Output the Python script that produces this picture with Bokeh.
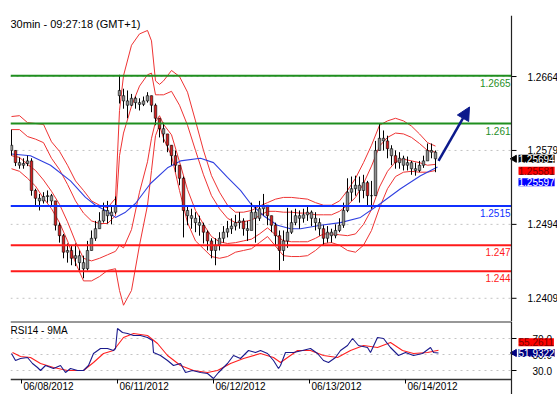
import math
from bokeh.plotting import figure
from bokeh.models import (Range1d, Span, Label, Arrow, NormalHead, ColumnDataSource)
from bokeh.core.properties import value
from bokeh.layouts import column
from bokeh.embed import file_html
from bokeh.resources import INLINE

FONT = "Liberation Sans"

# ---------------- price bars (hourly) ----------------
closes = [1.2579,1.2565,1.2562,1.2564,1.2567,1.2533,1.2524,1.2521,1.2526,1.2527,
          1.2521,1.2493,1.2481,1.2462,1.2464,1.2455,1.2458,1.2450,1.2443,1.2464,
          1.2478,1.2489,1.2498,1.2510,1.2504,1.2508,1.2516,1.2642,1.2636,1.2631,
          1.2639,1.2634,1.2632,1.2636,1.2642,1.2631,1.2616,1.2604,1.2598,1.2585,
          1.2573,1.2562,1.2547,1.2510,1.2504,1.2501,1.2496,1.2493,1.2485,1.2475,
          1.2464,1.2470,1.2478,1.2485,1.2489,1.2492,1.2496,1.2498,1.2489,1.2487,
          1.2508,1.2501,1.2512,1.2516,1.2504,1.2493,1.2481,1.2464,1.2475,1.2485,
          1.2496,1.2504,1.2501,1.2505,1.2508,1.2501,1.2496,1.2489,1.2478,1.2485,
          1.2481,1.2487,1.2493,1.2510,1.2531,1.2535,1.2539,1.2533,1.2542,1.2527,
          1.2527,1.2579,1.2593,1.2590,1.2581,1.2573,1.2565,1.2570,1.2562,1.2565,
          1.2558,1.2556,1.2562,1.2567,1.2579,1.2577,1.25694]
highs = [1.2603,1.2579,1.2571,1.2570,1.2573,1.2570,1.2535,1.2529,1.2531,1.2533,
         1.2529,1.2521,1.2496,1.2483,1.2472,1.2470,1.2472,1.2464,1.2458,1.2475,
         1.2487,1.2498,1.2508,1.2519,1.2521,1.2516,1.2526,1.2666,1.2650,1.2648,
         1.2644,1.2641,1.2639,1.2641,1.2646,1.2642,1.2633,1.2616,1.2611,1.2598,
         1.2585,1.2579,1.2562,1.2549,1.2516,1.2512,1.2508,1.2504,1.2496,1.2487,
         1.2478,1.2478,1.2485,1.2492,1.2498,1.2501,1.2505,1.2508,1.2501,1.2498,
         1.2519,1.2516,1.2521,1.2529,1.2516,1.2504,1.2496,1.2487,1.2487,1.2513,
         1.2510,1.2512,1.2510,1.2512,1.2515,1.2510,1.2508,1.2501,1.2493,1.2492,
         1.2489,1.2494,1.2501,1.2519,1.2547,1.2549,1.2550,1.2549,1.2551,1.2544,
         1.2544,1.2590,1.2610,1.2602,1.2596,1.2585,1.2579,1.2577,1.2573,1.2572,
         1.2567,1.2565,1.2567,1.2573,1.2587,1.2587,1.2579]
lows = [1.2573,1.2561,1.2558,1.2558,1.2561,1.2527,1.2516,1.2510,1.2518,1.2519,
        1.2516,1.2487,1.2473,1.2455,1.2450,1.2447,1.2446,1.2441,1.2432,1.2441,
        1.2464,1.2475,1.2489,1.2496,1.2495,1.2494,1.2506,1.2633,1.2627,1.2616,
        1.2630,1.2627,1.2625,1.2630,1.2634,1.2623,1.2608,1.2594,1.2588,1.2577,
        1.2562,1.2554,1.2539,1.2479,1.2493,1.2489,1.2485,1.2481,1.2472,1.2464,
        1.2455,1.2447,1.2464,1.2473,1.2479,1.2483,1.2487,1.2489,1.2481,1.2475,
        1.2493,1.2473,1.2498,1.2504,1.2493,1.2485,1.2470,1.2441,1.2452,1.2467,
        1.2483,1.2493,1.2489,1.2496,1.2498,1.2492,1.2487,1.2481,1.2470,1.2473,
        1.2473,1.2478,1.2485,1.2490,1.2508,1.2521,1.2527,1.2519,1.2524,1.2516,
        1.2512,1.2527,1.2579,1.2579,1.2570,1.2562,1.2558,1.2558,1.2556,1.2556,
        1.2551,1.2550,1.2554,1.2559,1.2567,1.2570,1.2554]
first_open = 1.2585
gap_index = 27
gap_open = 1.2648

# ---------------- bands & moving average ----------------
band_x = [0,2,4,6,8,10,12,14,16,18,20,22,24,26,27,28,30,32,34,35,36,37,38,
          40,42,44,46,48,50,52,54,56,58,60,62,64,66,68,70,72,74,76,78,80,82,84,
          86,88,90,92,94,96,98,100,102,104,106]
bb_upper = [1.2618,1.2619,1.2611,1.2610,1.2609,1.2589,1.2578,1.2562,1.2544,1.2533,1.2521,1.2516,1.2513,1.2524,
            1.2625,1.2665,1.2700,1.2713,1.2717,1.2705,1.2659,1.2655,1.2659,
            1.2671,1.2664,1.2646,1.2613,1.2579,1.2550,1.2531,1.2516,1.2508,1.2508,1.2510,1.2515,1.2519,1.2523,
            1.2525,1.2525,1.2524,1.2523,1.2519,1.2516,1.2516,1.2521,1.2533,1.2547,1.2565,1.2585,1.2608,1.2613,
            1.2616,1.2613,1.2607,1.2598,1.2588,1.2584]
bb_lower = [1.2558,1.2555,1.2547,1.2538,1.2524,1.2512,1.2496,1.2475,1.2450,1.2429,1.2429,1.2434,1.2441,1.2443,
            1.2418,1.2401,1.2418,1.2470,1.2516,1.2556,1.2596,1.2608,1.2593,
            1.2573,1.2533,1.2496,1.2475,1.2466,1.2457,1.2455,1.2457,1.2462,1.2464,1.2466,1.2473,1.2480,1.2469,
            1.2458,1.2457,1.2457,1.2458,1.2464,1.2472,1.2473,1.2470,1.2464,1.2462,1.2470,1.2487,1.2513,1.2535,
            1.2549,1.2554,1.2555,1.2554,1.2554,1.2556]
bb_inner_upper = [1.2603,1.2603,1.2595,1.2592,1.2588,1.2570,1.2557,1.2540,1.2521,1.2507,1.2498,1.2495,1.2495,1.2504,
                  1.2573,1.2599,1.2630,1.2653,1.2666,1.2668,1.2643,1.2643,1.2643,
                  1.2647,1.2631,1.2608,1.2579,1.2551,1.2527,1.2512,1.2501,1.2496,1.2497,1.2499,1.2504,1.2509,1.2509,
                  1.2508,1.2508,1.2507,1.2507,1.2505,1.2505,1.2505,1.2509,1.2516,1.2525,1.2541,1.2561,1.2584,1.2594,
                  1.2599,1.2598,1.2594,1.2587,1.2579,1.2577]
bb_inner_lower = [1.2573,1.2571,1.2563,1.2556,1.2545,1.2532,1.2517,1.2497,1.2474,1.2455,1.2452,1.2455,1.2459,1.2463,
                  1.2470,1.2467,1.2488,1.2531,1.2566,1.2593,1.2612,1.2619,1.2609,
                  1.2597,1.2566,1.2534,1.2510,1.2494,1.2480,1.2474,1.2472,1.2473,1.2475,1.2477,1.2483,1.2490,1.2482,
                  1.2475,1.2474,1.2474,1.2474,1.2478,1.2483,1.2483,1.2482,1.2481,1.2483,1.2494,1.2511,1.2537,1.2555,
                  1.2566,1.2569,1.2567,1.2565,1.2562,1.2563]
ma_x = [0,4.75,9.75,14.75,18.5,21,23.5,26,28.5,31,34.75,39,42.25,47.25,50.5,54,57.25,59.75,
        63,66.5,69.75,72.25,77.25,82.25,87.25,92.25,97.25,102.25,106.5]
ma_vals = [1.2575,1.2573,1.2562,1.2544,1.2525,1.2516,1.2510,1.2502,1.2508,1.2518,1.2541,1.2559,1.2567,
           1.2570,1.2565,1.2548,1.2533,1.2518,1.2504,1.2493,1.2489,1.2489,1.2493,1.2496,1.2502,1.2518,
           1.2535,1.2550,1.2560]

# ---------------- levels / tags ----------------
levels_green = [1.2665, 1.261]
levels_blue = [1.2515]
levels_red = [1.247, 1.244]
level_texts = {1.2665: "1.2665", 1.261: "1.261", 1.2515: "1.2515", 1.247: "1.247", 1.244: "1.244"}
last_price = 1.25694
band_tag = 1.25581
ma_tag = 1.25597
arrow_start = (106.75, 1.2567)
arrow_end = (114.5, 1.2629)

price_ticks = [1.2409, 1.2494, 1.2579, 1.2664]
date_ticks = [2.5, 26.5, 50.5, 74.5, 98.5]
date_labels = ["06/08/2012", "06/11/2012", "06/12/2012", "06/13/2012", "06/14/2012"]

# ---------------- RSI ----------------
rsi_x = [0,1,2.25,4,5.25,6.5,7.25,8.5,10.5,12.25,13.5,14.75,16.5,18,19.25,20.5,22.25,24,25.5,26,
         26.5,27.75,29,30.5,32.25,34,35.25,35.5,37.25,39,40.5,42.25,43.5,45.25,47.25,49,50.5,51.75,54,55.5,
         57.25,59.25,61,62.25,64,65.5,66.75,67.25,68.5,70.5,72.75,74.75,76.5,78,79.25,81,82.25,84,85.25,86.75,
         89,89.75,91.5,93,94.75,96.75,98.5,100.5,102.75,104.75,105.5,106.75]
rsi_vals = [51.25,42.5,45,46.25,38.75,33.75,30,36.25,32.5,36.25,27.5,32.5,30,30,36.25,51.25,57.5,57.5,55,57.5,
            82.5,77.5,76.25,73.75,73.75,71.25,67.5,52.5,48.75,42.5,36.25,38.75,27.5,30,27.5,26.25,20,27.5,38.75,48.75,
            45,55,52.5,55,51.25,42.5,32.5,36.25,52.5,52.5,55,57.5,51.25,42.5,40,46.25,55,61.25,70,61.25,
            58.75,52.5,71.25,70,58.75,48.75,52.5,48.75,51.25,58.75,52.5,51.93]
rsi_ma_x = [0.25,2.25,4.75,7.25,10.5,14,18,20.5,23,25.5,28,30.5,34,36.5,39,42.25,45.5,49,51.5,54.75,
            58,62.25,65.5,67.25,71.5,74.75,78,81.5,84.75,88,91.5,94.75,97.75,100.5,104,106.75]
rsi_ma_vals = [52.5,47.5,46.25,38.75,33.75,30,30,40,51.25,55,71.25,76.25,73.75,63.75,48.75,36.25,30,27.5,30,38.75,
               45,51.25,46.25,40,55,55,48.75,46.25,55,61.25,58.75,65,55,51.25,52.5,55.26]
rsi_ticks = [30, 50, 70]
rsi_last = 51.9322
rsi_ma_last = 55.2611

# ---------------- styles ----------------
GREEN = "#1f8f1f"
BLUE = "#1030ff"
RED = "#ff1a1a"
BAND = "#ee3333"
NAVY = "#0c1a8c"
AXIS_X = 125.0          # right edge of the drawing area (axis line position, in bar units)
X0 = -0.25
RSI_BOTTOM = 18.75      # RSI panel bottom border (value units)
RSI_TOP = 91.25

n = len(closes)
opens = [first_open] + closes[:-1]
opens[gap_index] = gap_open
xs = list(range(n))
fills = ["#d42020" if (o - c) > 0.0008 else "#8f8f8f" for o, c in zip(opens, closes)]
src = ColumnDataSource(dict(x=xs, o=opens, h=highs, l=lows, c=closes,
                            top=[max(o, c) for o, c in zip(opens, closes)],
                            bottom=[min(o, c) for o, c in zip(opens, closes)],
                            fill=fills))

xr = Range1d(X0, X0 + 547 / 4.0)

def base_fig(height, yr):
    f = figure(frame_width=547, frame_height=height, x_range=xr, y_range=yr,
               output_backend="svg", toolbar_location=None, y_axis_location=None,
               x_axis_location=None,
               min_border_left=10, min_border_right=0, min_border_top=0, min_border_bottom=0,
               outline_line_color=None, background_fill_color="white", border_fill_color="white")
    f.xgrid.visible = False
    f.ygrid.visible = False
    return f

def right_axis(f, ticks, labels, xoff, grid_color="#c4c4c4"):
    f.segment(x0=[X0] * len(ticks), x1=[AXIS_X] * len(ticks), y0=ticks, y1=ticks,
              line_color=grid_color, line_width=1, line_dash="2 4")
    f.segment(x0=[AXIS_X] * len(ticks), x1=[AXIS_X + 1.25] * len(ticks), y0=ticks, y1=ticks,
              line_color="black", line_width=1)
    f.add_layout(Span(location=AXIS_X, dimension="height", line_color="#222222", line_width=1.2))
    f.text(x=[AXIS_X] * len(ticks), y=ticks, text=labels, x_offset=xoff, text_baseline="middle",
           text_align="left", text_font=value(FONT), text_font_size="10px", text_color="black")

def tag(f, yv, text, bg, fg, yoff, xoff=7, pointer=False):
    f.add_layout(Label(x=AXIS_X, y=yv, x_offset=xoff, y_offset=yoff, text=text, text_align="left",
                       text_baseline="middle", text_font=FONT, text_font_size="10px",
                       text_color=fg, background_fill_color=bg, background_fill_alpha=1.0,
                       padding=0))
    if pointer:
        f.scatter(x=[AXIS_X + 0.7], y=[yv], marker="triangle", angle=math.pi / 2, size=7,
                  fill_color=bg, line_color=bg)

# ---------------- main panel ----------------
p = base_fig(306, Range1d(1.23823, 1.27342))
p.min_border_top = 15
right_axis(p, price_ticks, ["%.4f" % t for t in price_ticks], 16)

for up, lo in ((bb_upper, bb_lower), (bb_inner_upper, bb_inner_lower)):
    p.line(band_x, up, line_color=BAND, line_width=1)
    p.line(band_x, lo, line_color=BAND, line_width=1)
p.line(ma_x, ma_vals, line_color="#3040e0", line_width=1.1)

p.segment(x0="x", y0="l", x1="x", y1="h", source=src, line_color="black", line_width=1)
p.vbar(x="x", width=0.62, top="top", bottom="bottom", source=src,
       fill_color="fill", line_color="black", line_width=0.6)

for lv_list, col in ((levels_green, GREEN), (levels_blue, BLUE), (levels_red, RED)):
    p.segment(x0=[X0] * len(lv_list), x1=[AXIS_X] * len(lv_list), y0=lv_list, y1=lv_list,
              line_color=col, line_width=2)
    for lv in lv_list:
        p.add_layout(Label(x=AXIS_X, y=lv, x_offset=-1, y_offset=-3, text=level_texts[lv],
                           text_align="right", text_baseline="top", text_font=FONT,
                           text_font_size="10px", text_color=col))

p.add_layout(Arrow(end=NormalHead(size=13, fill_color=NAVY, line_color=NAVY),
                   x_start=arrow_start[0], y_start=arrow_start[1],
                   x_end=arrow_end[0], y_end=arrow_end[1],
                   line_color=NAVY, line_width=2.5))

p.add_layout(Label(x=X0, y=1.27342, x_offset=0, y_offset=-2, text="30min - 09:27:18 (GMT+1)",
                   text_baseline="top", text_font=FONT, text_font_size="11px", text_color="black"))

tag(p, last_price, "%.5f" % last_price, "black", "white", 0, pointer=True)
tag(p, band_tag, "%.5f" % band_tag, "#ff0000", "#7a0000", -2)
tag(p, ma_tag, "%.5f" % ma_tag, "#0000ff", "white", -15)

# ---------------- RSI panel (with its own date scale drawn below the border) ----------------
r = base_fig(73, Range1d(0, RSI_TOP))
right_axis(r, rsi_ticks, ["%.1f" % t for t in rsi_ticks], 21)
r.segment(x0=[X0, X0], x1=[AXIS_X, AXIS_X], y0=[RSI_TOP - 0.35, RSI_BOTTOM], y1=[RSI_TOP - 0.35, RSI_BOTTOM],
          line_color="#333333", line_width=1.5)
r.segment(x0=date_ticks, x1=date_ticks, y0=[RSI_BOTTOM] * len(date_ticks),
          y1=[RSI_BOTTOM - 5] * len(date_ticks), line_color="black", line_width=1)
r.text(x=date_ticks, y=[RSI_BOTTOM - 8.5] * len(date_ticks), text=date_labels, x_offset=2,
       text_align="left", text_baseline="middle", text_font=value(FONT), text_font_size="10px",
       text_color="black")

r.line(rsi_ma_x, rsi_ma_vals, line_color="#ff2020", line_width=1.1)
r.line(rsi_x, rsi_vals, line_color="#1a1a8c", line_width=1.1)
r.add_layout(Label(x=X0, y=RSI_TOP, x_offset=0, y_offset=-3, text="RSI14 - 9MA", text_baseline="top",
                   text_font=FONT, text_font_size="10px", text_color="black"))
tag(r, rsi_ma_last, "%.4f" % rsi_ma_last, "#ff0000", "#7a0000", 8)
tag(r, rsi_last, "%.4f" % rsi_last, "#000080", "white", 0, pointer=True)

layout = column(p, r, spacing=0)
open("out.html", "w").write(file_html(layout, INLINE))
